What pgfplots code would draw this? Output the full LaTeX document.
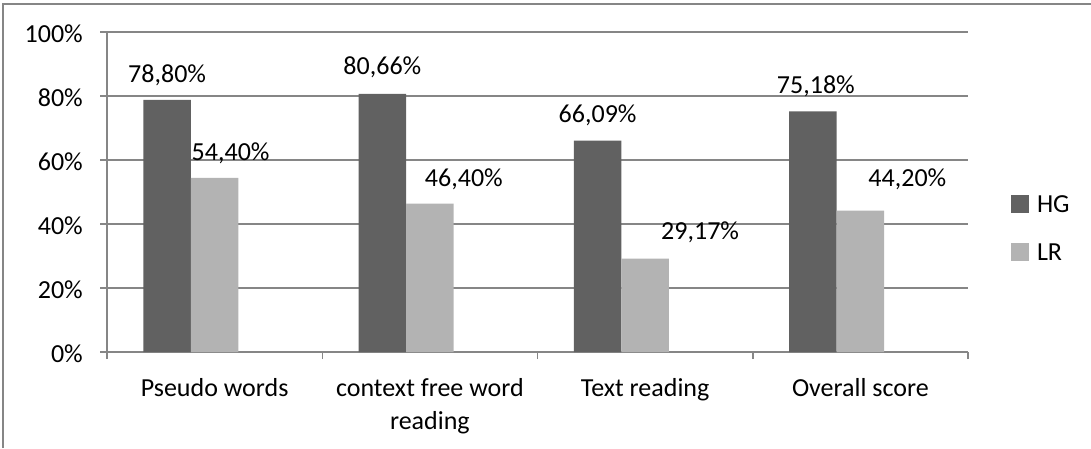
\documentclass[border=0pt]{standalone}
\usepackage{fontspec}
\setmainfont{Carlito}
\usepackage{pgfplots}
\usepackage{pgfplotstable}
\pgfplotsset{compat=1.18}

\definecolor{hg}{HTML}{616161}
\definecolor{lr}{HTML}{B3B3B3}
\definecolor{gridgray}{HTML}{868686}

% values in percent; dx/dy = label offset from bar top (pt)
\pgfplotstableread{
x y dx dy
0 78.80 0 17
1 80.66 0 19
2 66.09 0 18
3 75.18 3 18
}\hgdata
\pgfplotstableread{
x y dx dy
0 54.40 16 17
1 46.40 34 17
2 29.17 55 19
3 44.20 47 24
}\lrdata

\newcommand{\chartfont}{\fontsize{26}{33}\selectfont}

\begin{document}
\begin{tikzpicture}[x=1pt,y=1pt]
\useasboundingbox (0,0) rectangle (1091,448);
\draw[gridgray, line width=1.5pt] (3,0) -- (3,444) -- (1091,444);
\begin{axis}[
    at={(107pt,96pt)}, anchor=south west,
    scale only axis, width=861pt, height=320pt,
    xmin=-0.5, xmax=3.5, ymin=0, ymax=100,
    clip=false,
    ybar, bar width=47.5pt,
    axis lines*=left,
    axis line style={gridgray, line width=1.5pt},
    ymajorgrids, grid style={gridgray, line width=1.5pt},
    tick style={gridgray, line width=1.5pt},
    tick align=outside, major tick length=7pt, minor tick length=7pt,
    ytick={0,20,...,100},
    yticklabels={0\%,20\%,40\%,60\%,80\%,100\%},
    xtick={0,1,2,3},
    xticklabels={Pseudo words,{context free word\\reading},Text reading,Overall score},
    minor xtick={-0.5,0.5,1.5,2.5,3.5},
    major x tick style={draw=none},
    every tick label/.append style={font=\chartfont, text=black},
    yticklabel style={anchor=base east, inner sep=0pt, xshift=-17pt, yshift=-10pt},
    xticklabel style={anchor=north, inner sep=0pt, align=center, yshift=-19pt},
    /pgf/number format/assume math mode=true,
    nodes near coords={\pgfmathprintnumber[fixed,fixed zerofill,precision=2,use comma]{\pgfplotspointmeta}\%},
    legend style={at={(1.04994,0.490625)}, anchor=north west, draw=none, fill=none,
        inner sep=0pt, outer sep=0pt, font=\chartfont, row sep=29pt,
        nodes={inner sep=0pt, yshift=8pt}},
    legend cell align=left,
]
\addplot[fill=hg, draw=none, bar shift=-47.5pt,
    legend image code/.code={\fill (0pt,0pt) rectangle (18pt,18pt); \path (26pt,0pt);},
    visualization depends on={\thisrow{dx} \as \dx},
    visualization depends on={\thisrow{dy} \as \dy},
    every node near coord/.append style={font=\chartfont, text=black, anchor=base,
        inner sep=0pt, xshift=\dx pt, yshift=\dy pt}]
    table[x=x, y=y] {\hgdata};
\addlegendentry{HG}
\addplot[fill=lr, draw=none, bar shift=0pt,
    legend image code/.code={\fill (0pt,0pt) rectangle (18pt,18pt); \path (26pt,0pt);},
    visualization depends on={\thisrow{dx} \as \dx},
    visualization depends on={\thisrow{dy} \as \dy},
    every node near coord/.append style={font=\chartfont, text=black, anchor=base,
        inner sep=0pt, xshift=\dx pt, yshift=\dy pt}]
    table[x=x, y=y] {\lrdata};
\addlegendentry{LR}
\end{axis}
\end{tikzpicture}
\end{document}
